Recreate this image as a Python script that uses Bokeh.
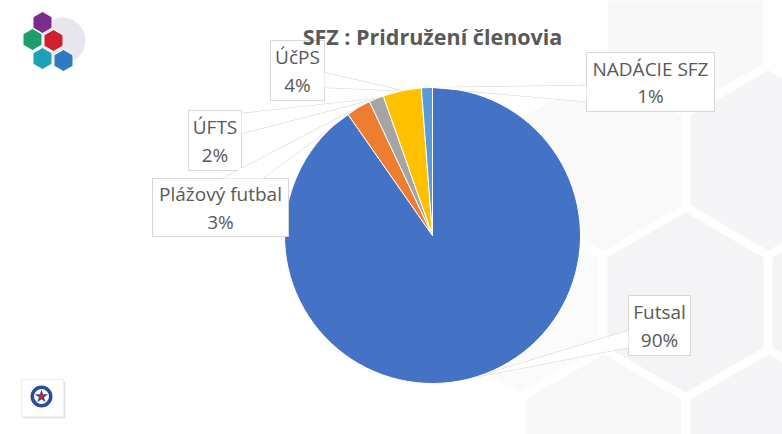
import math
from bokeh.plotting import figure
from bokeh.models import ColumnDataSource
from bokeh.core.properties import value
from bokeh.embed import file_html
from bokeh.resources import INLINE

# ---- data ----
categories = ["Futsal", "Plážový futbal", "ÚFTS", "ÚčPS", "NADÁCIE SFZ"]
shares = [90.3, 2.7, 1.6, 4.2, 1.2]
colors = ["#4472C4", "#ED7D31", "#A5A5A5", "#FFC000", "#5B9BD5"]
title_text = "SFZ : Pridružení členovia"

# ---- layout (reference-pixel coordinates, y down) ----
W, H = 782, 434
def R(X, Y):
    return X, H - Y

PIE_C = (432, 235)
PIE_R = 148
# label boxes: x0, x1, y0, y1
boxes = [
    (628, 690, 295, 355),
    (152, 288, 178, 236),
    (188, 241, 110, 170),
    (270, 324, 40, 100),
    (586, 714, 52, 111),
]
# callout base on box edge: (x_a, y_a, x_b, y_b)
bases = [
    (628, 330, 628, 347),
    (222, 178, 262, 178),
    (241, 113, 241, 133),
    (324, 72, 324, 87),
    (586, 85, 586, 101),
]

TEXT_COL = "#595959"
FONT = "Open Sans"

p = figure(width=W, height=H, x_range=(0, W), y_range=(0, H),
           output_backend="svg", toolbar_location=None, min_border=0)
p.axis.visible = False
p.grid.visible = False
p.outline_line_color = None
p.background_fill_color = "white"
p.border_fill_color = "white"

# ---- background hexagon pattern (decoration) ----
def hexagon(cx, cy, w, h):
    xs, ys = [], []
    for k in range(6):
        a = math.radians(90 + 60 * k)
        xs.append(cx + w / 2 * math.cos(a) / math.cos(math.radians(30)))
        ys.append(cy + h / 2 * math.sin(a))
    return xs, ys

hex_centers = [(685, 302, 0.55), (603, 160, 0.3), (768, 160, 0.5), (603, 444, 0.35),
               (768, 444, 0.5), (520, 302, 0.2), (850, 302, 0.55), (685, 18, 0.35)]
hxs, hys, hal = [], [], []
for (X, Y, a) in hex_centers:
    xs, ys = hexagon(X, Y, 156, 180)
    pts = [R(x, y) for x, y in zip(xs, ys)]
    hxs.append([q[0] for q in pts])
    hys.append([q[1] for q in pts])
    hal.append(a)
p.patches(xs="xs", ys="ys", fill_alpha="a", source=ColumnDataSource(dict(xs=hxs, ys=hys, a=hal)),
          fill_color="#EBEBEF", line_color=None)

# ---- pie ----
total = sum(shares)
cx, cy = R(*PIE_C)
starts, ends, mids = [], [], []
cum = 0.0
for v in shares:
    f0 = cum / total
    cum += v
    f1 = cum / total
    starts.append(math.pi / 2 - 2 * math.pi * f0)
    ends.append(math.pi / 2 - 2 * math.pi * f1)
    mids.append(math.pi / 2 - 2 * math.pi * (f0 + f1) / 2)

# callout triangles
txs, tys = [], []
for (xa, ya, xb, yb), m in zip(bases, mids):
    ax = cx + PIE_R * math.cos(m)
    ay = cy + PIE_R * math.sin(m)
    A = R(xa, ya)
    B = R(xb, yb)
    txs.append([A[0], B[0], ax])
    tys.append([A[1], B[1], ay])
p.patches(xs=txs, ys=tys, fill_color="white", line_color="#D0D0D0", line_width=1)

src = ColumnDataSource(dict(start=starts, end=ends, color=colors, cat=categories))
p.wedge(x=cx, y=cy, radius=PIE_R, start_angle="start", end_angle="end",
        direction="clock", fill_color="color", line_color="white", line_width=1, source=src)

# label boxes
bl, br, bt, bb = [], [], [], []
for (x0, x1, y0, y1) in boxes:
    a = R(x0, y0)
    b = R(x1, y1)
    bl.append(a[0]); br.append(b[0]); bt.append(a[1]); bb.append(b[1])
p.quad(left=bl, right=br, top=bt, bottom=bb, fill_color="white", line_color="#D6D6D6", line_width=1)

# cover base joint of callouts
p.patches(xs=txs, ys=tys, fill_color="white", line_color=None)
p.quad(left=[l + 1 for l in bl], right=[r - 1 for r in br], top=[t - 1 for t in bt],
       bottom=[b + 1 for b in bb], fill_color="white", line_color=None)

# label texts
n_x, n_y, p_y, pct = [], [], [], []
for (x0, x1, y0, y1), v in zip(boxes, shares):
    mx, my = R((x0 + x1) / 2, (y0 + y1) / 2)
    n_x.append(mx)
    n_y.append(my + 13.5)
    p_y.append(my - 14)
    pct.append(f"{round(v / total * 100)}%")
p.text(x=n_x, y=n_y, text=categories, text_align="center", text_baseline="middle",
       text_font=value(FONT), text_font_size="19px", text_color=TEXT_COL)
p.text(x=n_x, y=p_y, text=pct, text_align="center", text_baseline="middle",
       text_font=value(FONT), text_font_size="19px", text_color=TEXT_COL)

# title
tx, ty = R(432, 36)
p.text(x=[tx], y=[ty], text=[title_text], text_align="center", text_baseline="middle",
       text_font=value(FONT), text_font_size="21.5px", text_font_style="bold", text_color=TEXT_COL)

# ---- logos (decoration) ----
lc = R(62, 40)
p.scatter(x=[lc[0]], y=[lc[1]], size=46, marker="circle", fill_color="#E6E6EC", line_color=None)
logo_pos = [(42, 22), (32, 39), (53, 40), (42, 58), (63, 60)]
logo_col = ["#7B2D8E", "#1E9E6A", "#D0202E", "#1DA1B5", "#2F7BBF"]
lp = [R(x, y) for x, y in logo_pos]
p.scatter(x=[q[0] for q in lp], y=[q[1] for q in lp], marker="hex", size=22, angle=math.pi / 6,
          fill_color=logo_col, line_color="white", line_width=1)

s0 = R(21, 379); s1 = R(63, 416)
p.quad(left=[s0[0] + 2], right=[s1[0] + 2], top=[s0[1] - 2], bottom=[s1[1] - 2],
       fill_color="#D8D8D8", fill_alpha=0.7, line_color=None)
p.quad(left=[s0[0]], right=[s1[0]], top=[s0[1]], bottom=[s1[1]], fill_color="white", line_color="#EEEEEE")
ec = R(41, 396)
p.scatter(x=[ec[0]], y=[ec[1]], size=22, marker="circle", fill_color="#2B4C9B", line_color=None)
p.scatter(x=[ec[0]], y=[ec[1]], size=15, marker="circle", fill_color="white", line_color=None)
p.scatter(x=[ec[0]], y=[ec[1]], size=14, marker="star", fill_color="#2B4C9B", line_color=None)
p.scatter(x=[ec[0]], y=[ec[1]], size=5, marker="circle", fill_color="#D0202E", line_color=None)

open("out.html", "w").write(file_html(p, INLINE))
